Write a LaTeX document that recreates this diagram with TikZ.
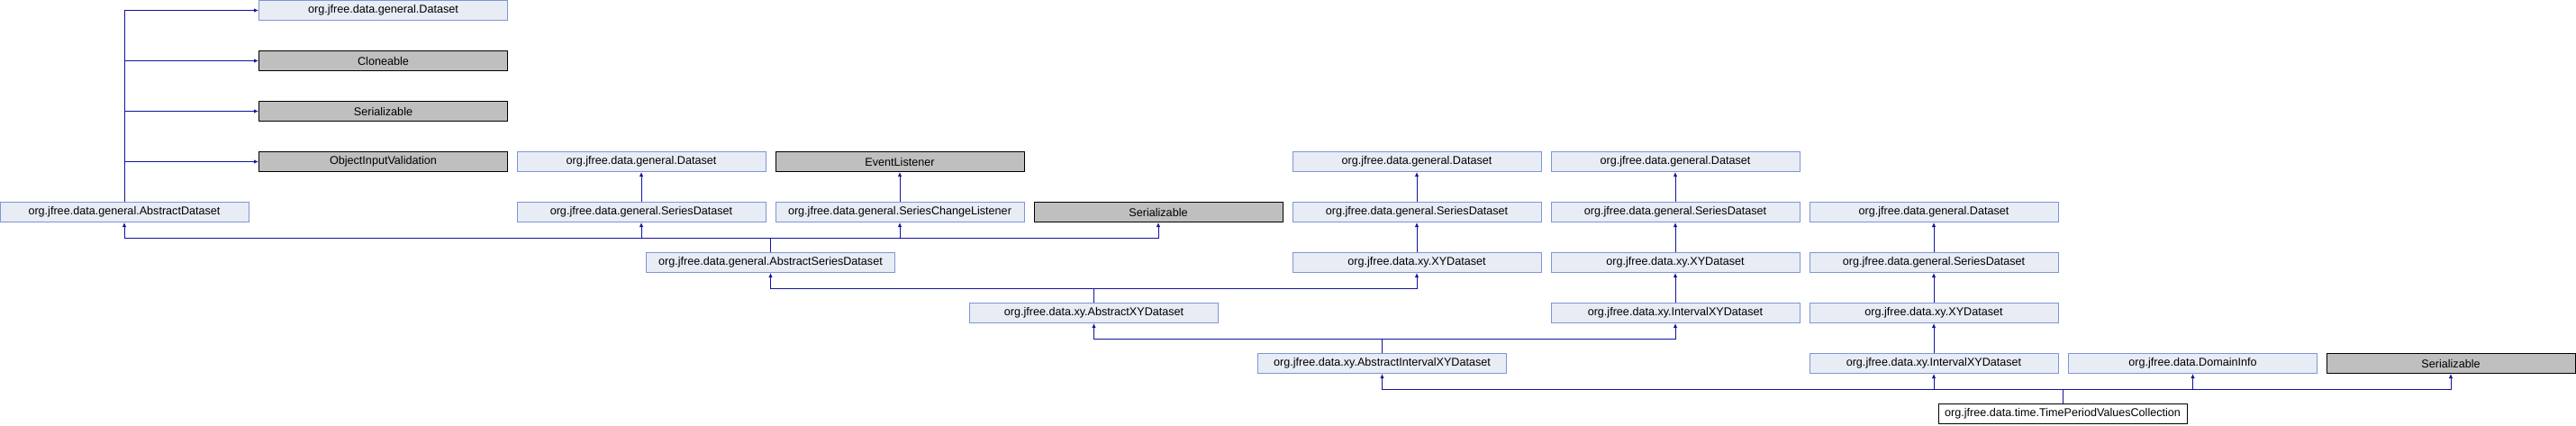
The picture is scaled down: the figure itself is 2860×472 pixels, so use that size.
\documentclass[tikz,border=0pt]{standalone}
\usepackage{fontspec}
\setmainfont{Liberation Sans}
\usetikzlibrary{arrows.meta, positioning}
\definecolor{boxfill}{HTML}{E8ECF5}
\definecolor{boxline}{HTML}{7E96D3}
\definecolor{extfill}{HTML}{BFBFBF}
\definecolor{edgecol}{HTML}{14149A}
\tikzset{
    cls/.style ={rectangle, draw=boxline, fill=boxfill, line width=1pt,
                 minimum width=276pt, minimum height=22pt, inner sep=0pt,
                 font=\fontsize{12.6}{14}\selectfont},
    ext/.style ={cls, draw=black, fill=extfill},
    main/.style ={cls, draw=black, fill=white},
    inh/.style ={draw=edgecol, line width=1pt, -{Latex[length=5pt,width=4.5pt]}}
    }

\begin{document}
\begin{tikzpicture}[
      x = 1pt, y = -1pt, % pixel grid, y downwards
      inh
    ]
    \useasboundingbox (0,0) rectangle (2860,472);

    \node[cls] (1) at (425.5,11.5) {org.jfree.data.general.Dataset};
    \node[ext] (2) at (425.5,67.5) {Cloneable};
    \node[ext] (3) at (425.5,123.5) {Serializable};
    \node[ext] (4) at (425.5,179.5) {ObjectInputValidation};
    \node[cls] (5) at (138,235.5) {org.jfree.data.general.AbstractDataset};

    \node[cls] (6) at (712,179.5) {org.jfree.data.general.Dataset};
    \node[ext] (7) at (999,179.5) {EventListener};
    \node[cls] (8) at (712,235.5) {org.jfree.data.general.SeriesDataset};
    \node[cls] (9) at (999,235.5) {org.jfree.data.general.SeriesChangeListener};
    \node[ext] (10) at (1286,235.5) {Serializable};
    \node[cls] (11) at (855.5,291.5) {org.jfree.data.general.AbstractSeriesDataset};

    \node[cls] (12) at (1573,179.5) {org.jfree.data.general.Dataset};
    \node[cls] (13) at (1573,235.5) {org.jfree.data.general.SeriesDataset};
    \node[cls] (14) at (1573,291.5) {org.jfree.data.xy.XYDataset};
    \node[cls] (15) at (1214.5,347.5) {org.jfree.data.xy.AbstractXYDataset};

    \node[cls] (16) at (1860,179.5) {org.jfree.data.general.Dataset};
    \node[cls] (17) at (1860,235.5) {org.jfree.data.general.SeriesDataset};
    \node[cls] (18) at (1860,291.5) {org.jfree.data.xy.XYDataset};
    \node[cls] (19) at (1860,347.5) {org.jfree.data.xy.IntervalXYDataset};
    \node[cls] (20) at (1534.5,403.5) {org.jfree.data.xy.AbstractIntervalXYDataset};

    \node[cls] (21) at (2147,235.5) {org.jfree.data.general.Dataset};
    \node[cls] (22) at (2147,291.5) {org.jfree.data.general.SeriesDataset};
    \node[cls] (23) at (2147,347.5) {org.jfree.data.xy.XYDataset};
    \node[cls] (24) at (2147,403.5) {org.jfree.data.xy.IntervalXYDataset};
    \node[cls] (25) at (2434.5,403.5) {org.jfree.data.DomainInfo};
    \node[ext] (26) at (2721,403.5) {Serializable};

    \node[main] (27) at (2290,459.5) {org.jfree.data.time.TimePeriodValuesCollection};

    \draw (5.north) |- (1.west);
    \draw (5.north) |- (2.west);
    \draw (5.north) |- (3.west);
    \draw (5.north) |- (4.west);

    \draw (8) -- (6);
    \draw (9) -- (7);
    \draw (11.north) -- ++(0,-16) -| (5.south);
    \draw (11.north) -- ++(0,-16) -| (8.south);
    \draw (11.north) -- ++(0,-16) -| (9.south);
    \draw (11.north) -- ++(0,-16) -| (10.south);

    \draw (13) -- (12);
    \draw (14) -- (13);
    \draw (15.north) -- ++(0,-16) -| (11.south);
    \draw (15.north) -- ++(0,-16) -| (14.south);

    \draw (17) -- (16);
    \draw (18) -- (17);
    \draw (19) -- (18);
    \draw (20.north) -- ++(0,-16) -| (15.south);
    \draw (20.north) -- ++(0,-16) -| (19.south);

    \draw (22) -- (21);
    \draw (23) -- (22);
    \draw (24) -- (23);
    \draw (27.north) -- ++(0,-16) -| (20.south);
    \draw (27.north) -- ++(0,-16) -| (24.south);
    \draw (27.north) -- ++(0,-16) -| (25.south);
    \draw (27.north) -- ++(0,-16) -| (26.south);
\end{tikzpicture}
\end{document}
